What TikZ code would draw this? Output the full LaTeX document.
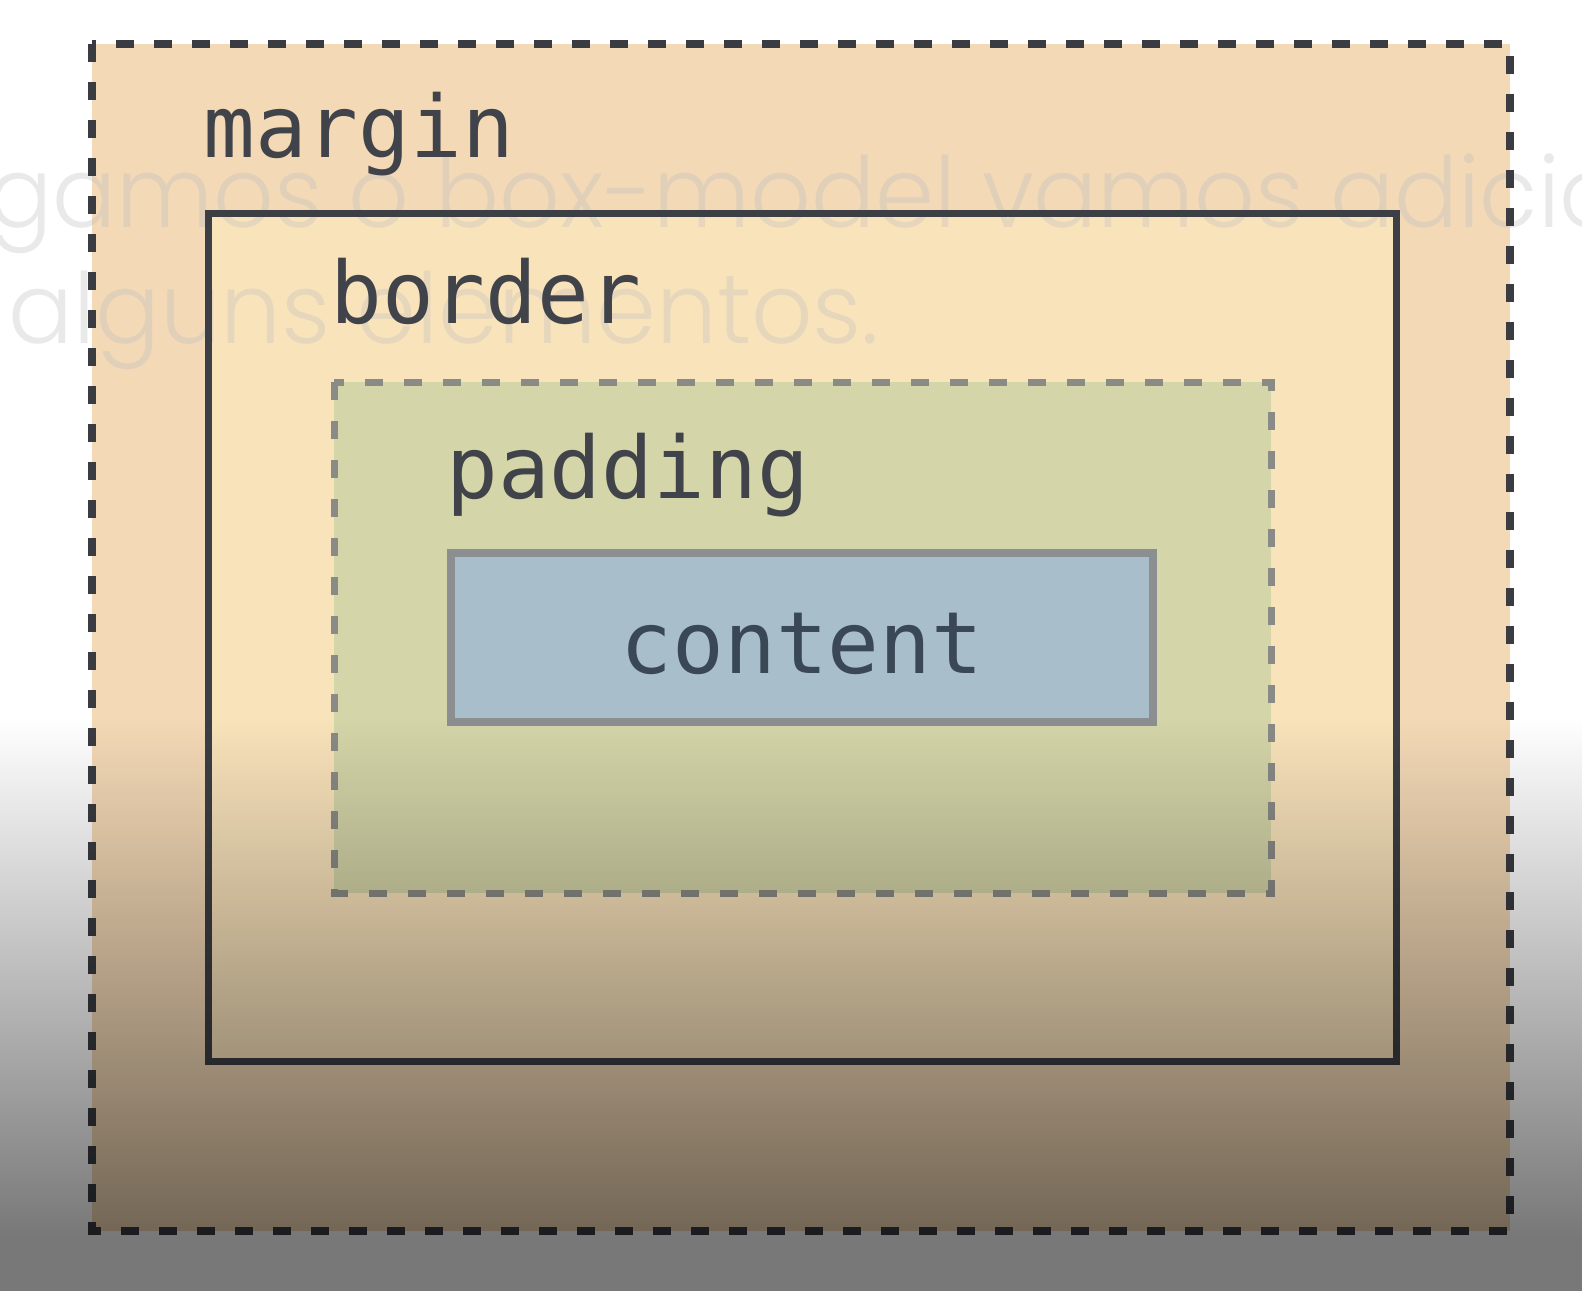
\documentclass[tikz,border=0pt]{standalone}
\usepackage{fontspec}
\newfontfamily\labelfont{DejaVu Sans Mono}
\IfFontExistsTF{Poppins Light}{\newfontfamily\subfont{Poppins Light}}{\newfontfamily\subfont{Poppins}}
\usetikzlibrary{fadings}
\definecolor{marginfill}{HTML}{F4D9B6}
\definecolor{borderfill}{HTML}{F9E3BB}
\definecolor{paddingfill}{HTML}{D4D5A8}
\definecolor{contentfill}{HTML}{A9BECB}
\definecolor{marginstroke}{HTML}{3A3C42}
\definecolor{borderstroke}{HTML}{3C3F44}
\definecolor{paddingstroke}{HTML}{8A8A86}
\definecolor{contentstroke}{HTML}{8C8F91}
\definecolor{labeltext}{HTML}{40434A}
\definecolor{contenttext}{HTML}{3A4856}
\definecolor{subgray}{HTML}{BFBFBF}
\tikzfading[name=darkdown, top color=transparent!100, bottom color=transparent!47]
\begin{document}
\begin{tikzpicture}[x=0.5pt,y=-0.5pt,
  marginline/.style={draw=marginstroke, line width=4pt, dash pattern=on 9pt off 10pt},
  borderline/.style={draw=borderstroke, line width=3.5pt},
  paddingline/.style={draw=paddingstroke, line width=3.5pt, dash pattern=on 9pt off 10.5pt},
  contentline/.style={draw=contentstroke, line width=4pt},
  boxlabel/.style={inner sep=0pt, text=labeltext, font=\labelfont\fontsize{43}{50}\selectfont},
  subtext/.style={inner sep=0pt, text=subgray, opacity=0.34, font=\subfont\fontsize{49}{56}\selectfont}
]
\useasboundingbox (0,0) rectangle (1582,1290);
\begin{scope}
\clip (0,0) rectangle (1582,1290);
\fill[white] (0,0) rectangle (1582,1290);
% corners of the boxes
\coordinate (mTL) at (92,44);   \coordinate (mBR) at (1510,1231);
\coordinate (bTL) at (208,213); \coordinate (bBR) at (1396,1061);
\coordinate (pTL) at (334,382); \coordinate (pBR) at (1271,893);
\coordinate (cTL) at (451,553); \coordinate (cBR) at (1153,722);
% fills
\fill[marginfill] (mTL) rectangle (mBR);
\fill[borderfill] (bTL) rectangle (bBR);
\fill[paddingfill] (pTL) rectangle (pBR);
\fill[contentfill] (cTL) rectangle (cBR);
% faint subtitle
\node[subtext, anchor=base west] (sub1) at (-12,227) {\scalebox{0.968}[1]{gamos o box-model vamos adicio}};
\node[subtext, anchor=base west] (sub2) at (8,343) {\scalebox{0.98}[1]{alguns elementos.}};
% outlines
\draw[marginline] (mTL) rectangle (mBR);
\draw[borderline] (bTL) rectangle (bBR);
\draw[paddingline] (pTL) rectangle (pBR);
\draw[contentline] (cTL) rectangle (cBR);
% labels
\node[boxlabel, anchor=base west] (margin) at (203,157) {margin};
\node[boxlabel, anchor=base west] (border) at (330,323) {border};
\node[boxlabel, anchor=base west] (padding) at (446,498) {padding};
\node[boxlabel, anchor=base, text=contenttext] (content) at (802,673) {content};
% dark player gradient
\fill[black, path fading=darkdown] (-30,718) rectangle (1612,1236);
\fill[black, opacity=0.53] (-30,1235.5) rectangle (1612,1300);
\end{scope}
\end{tikzpicture}
\end{document}
